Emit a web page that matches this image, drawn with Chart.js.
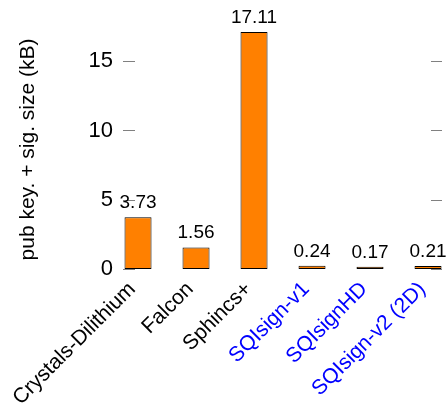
<!DOCTYPE html>
<html>
<head>
<meta charset="utf-8">
<script src="https://cdn.jsdelivr.net/npm/chart.js@4"></script>
<style>
  html, body { margin: 0; padding: 0; background: #fff; }
  #wrap { width: 446px; height: 404px; }
</style>
</head>
<body>
<div id="wrap"><canvas id="barchart"></canvas></div>
<script>
const schemes = ['Crystals-Dilithium', 'Falcon', 'Sphincs+', 'SQIsign-v1', 'SQIsignHD', 'SQIsign-v2 (2D)'];
const sizes = [3.73, 1.56, 17.11, 0.24, 0.17, 0.21];
const labelColors = ['#000000', '#000000', '#000000', '#0000ff', '#0000ff', '#0000ff'];
const yTicks = [0, 5, 10, 15];

const FONT = "'Liberation Sans', Arial, sans-serif";

// value labels above each bar
const valueLabels = {
  id: 'valueLabels',
  afterDatasetsDraw(chart) {
    const ctx = chart.ctx;
    const meta = chart.getDatasetMeta(0);
    ctx.save();
    ctx.font = '19px ' + FONT;
    ctx.fillStyle = '#000';
    ctx.textAlign = 'center';
    ctx.textBaseline = 'alphabetic';
    meta.data.forEach((bar, i) => {
      ctx.fillText(sizes[i].toFixed(2), bar.x, bar.y - 9);
    });
    ctx.restore();
  }
};

// short inward tick marks on both sides of the plot
const sideTicks = {
  id: 'sideTicks',
  beforeDatasetsDraw(chart) {
    const ctx = chart.ctx;
    const area = chart.chartArea;
    const y = chart.scales.y;
    ctx.save();
    ctx.strokeStyle = '#808080';
    ctx.lineWidth = 1;
    y.ticks.forEach(t => {
      const py = Math.round(y.getPixelForValue(t.value)) + 0.5;
      ctx.beginPath();
      ctx.moveTo(area.left, py);
      ctx.lineTo(area.left + 12, py);
      ctx.moveTo(area.right - 11, py);
      ctx.lineTo(area.right, py);
      ctx.stroke();
    });
    ctx.restore();
  }
};

const ctx = document.getElementById('barchart').getContext('2d');
const barchart = new Chart(ctx, {
  type: 'bar',
  data: {
    datasets: [{
      data: sizes.map((v, i) => ({ x: i, y: v })),
      backgroundColor: '#ff8000',
      borderColor: '#000000',
      borderWidth: 1,
      borderSkipped: false,
      categoryPercentage: 1,
      barPercentage: 0.466
    }]
  },
  plugins: [valueLabels, sideTicks],
  options: {
    responsive: true,
    maintainAspectRatio: false,
    animation: false,
    layout: { padding: { top: 30, right: 4, left: 0, bottom: 0 } },
    plugins: {
      legend: { display: false },
      tooltip: { enabled: false }
    },
    scales: {
      x: {
        type: 'linear',
        offset: false,
        min: -0.259,
        max: 5.241,
        grid: { display: false, offset: false },
        border: { display: false },
        // labels anchored by their top-right corner, a little left of the bar centre
        afterBuildTicks: s => { s.ticks = schemes.map((_, i) => ({ value: i - 0.1 })); },
        afterFit: s => { s.height = 135; s.paddingLeft = 0; s.paddingRight = 0; },
        ticks: {
          autoSkip: false,
          minRotation: 45,
          maxRotation: 45,
          padding: 0,
          font: { family: FONT, size: 21 },
          color: c => labelColors[c.index],
          callback: (v, i) => schemes[i]
        }
      },
      y: {
        min: 0,
        max: 17.25,
        grid: { display: false },
        border: { display: false },
        afterBuildTicks: s => { s.ticks = yTicks.map(v => ({ value: v })); },
        afterFit: s => { s.width = 123; },
        ticks: {
          padding: 2,
          font: { family: FONT, size: 22 },
          color: '#000'
        },
        title: {
          display: true,
          text: 'pub key. + sig. size (kB)',
          color: '#000',
          font: { family: FONT, size: 21 },
          padding: { top: 16, bottom: 0 }
        }
      }
    }
  }
});
</script>
</body>
</html>
